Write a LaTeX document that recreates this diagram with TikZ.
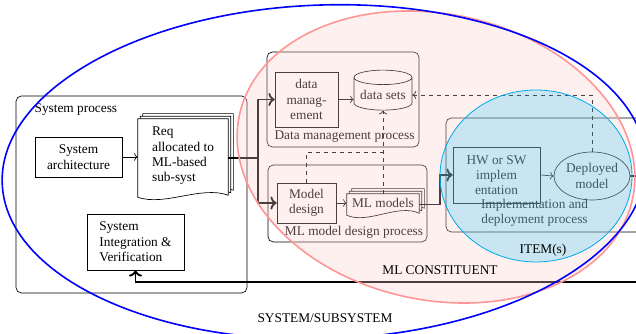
\documentclass[tikz,border=0pt]{standalone}
\usepackage{fontspec}
\setmainfont{Liberation Serif}
\usetikzlibrary{arrows.meta, positioning, shapes.geometric}
\definecolor{mlpink}{RGB}{255, 205, 205}
\definecolor{mlpinkline}{RGB}{255, 150, 150}
\definecolor{itemcyan}{RGB}{0, 190, 245}
\definecolor{itemcyanline}{RGB}{0, 170, 235}
\definecolor{sysblue}{RGB}{0, 0, 255}

% stacked document: name, position, width, height, text
\newcommand{\docstack}[5]{%
  \node[docframe, minimum width=#3, minimum height=#4] (#1) at #2 {};
  \foreach \o in {2,1,0}{
    \pgfmathsetmacro{\d}{1.9*\o}
    \draw[docline]
      ([xshift=\d pt, yshift=\d pt]#1.north west) -- ([xshift=\d pt, yshift=\d pt]#1.north east)
      -- ([xshift=\d pt, yshift=\d pt+1.5pt]#1.south east)
      .. controls ([xshift=\d pt-0.3*#3, yshift=\d pt+9pt]#1.south east)
             and ([xshift=\d pt+0.3*#3, yshift=\d pt-7pt]#1.south west)
      .. ([xshift=\d pt, yshift=\d pt]#1.south west) -- cycle;
  }
  \node[doctext] (#1-txt) at ([yshift=1.5pt]#1.center) {#5};
}

\begin{document}
\begin{tikzpicture}[
  x=0.75pt, y=-0.75pt,
  font=\fontsize{10}{11.5}\selectfont,
  procbox/.style={rectangle, draw, rounded corners=4pt, line width=0.5pt},
  taskbox/.style={rectangle, draw, line width=0.5pt, align=center, inner sep=2pt},
  store/.style={cylinder, shape border rotate=90, aspect=0.3, draw, line width=0.5pt, inner sep=1pt},
  docframe/.style={rectangle, inner sep=0pt, draw=none},
  docline/.style={draw, fill=white, line width=0.5pt},
  doctext/.style={align=left, inner sep=0pt},
  thinarr/.style={-{To}, line width=0.5pt},
  thickarr/.style={-{To}, line width=1.4pt},
  dasharr/.style={-{To}, dashed, line width=0.6pt},
  dashline/.style={dashed, line width=0.6pt}
]
  \useasboundingbox (0,0) rectangle (636,334);
  \clip (0,0) rectangle (636,334);

  % system process
  \node[procbox, minimum width=173.25pt, minimum height=147.75pt] (sysproc) at (131.5,194.5) {};
  \node[below right=6pt and 14pt of sysproc.north west, inner sep=0pt] (sysproclabel) {System process};
  \node[taskbox, minimum width=65.25pt, minimum height=30pt] (sysarch) at (78.5,157) {System\\architecture};
  \docstack{req}{(183,158)}{67.5pt}{58.5pt}{Req\\allocated to\\ML-based\\sub-syst}
  \node[taskbox, align=left, minimum width=72.75pt, minimum height=42pt] (siv) at (135.5,242) {System\\Integration \&\\Verification};

  % data management process
  \node[procbox, minimum width=114pt, minimum height=71.25pt] (dmproc) at (343,99.5) {};
  \node[inner sep=0pt] (dmlabel) at (344.5,137) {Data management process};
  \node[taskbox, minimum width=47.25pt, minimum height=41.25pt] (datamgmt) at (306.5,99.5) {data\\manag-\\ement};
  \node[store, minimum width=43.5pt, minimum height=30pt] (datasets) at (383,95) {data sets};

  % ML model design process
  \node[procbox, minimum width=119.25pt, minimum height=57.75pt] (mlproc) at (347.5,203.5) {};
  \node[inner sep=0pt] (mllabel) at (354,232) {ML model design process};
  \node[taskbox, minimum width=44.25pt, minimum height=30pt] (modeldesign) at (306.5,203) {Model\\design};
  \docstack{mlmodels}{(383,204.5)}{54pt}{15.75pt}{ML models}

  % implementation and deployment process
  \node[procbox, minimum width=190.5pt, minimum height=85.5pt] (implproc) at (573,175) {};
  \node[align=center, inner sep=0pt] (impllabel) at (534.5,212.5) {Implementation and\\deployment process};
  \node[taskbox, minimum width=65.25pt, minimum height=42pt] (hwsw) at (496.5,175) {HW or SW\\implem\\entation};
  \node[ellipse, draw, line width=0.5pt, align=center, minimum width=57pt, minimum height=36pt, inner sep=0pt] (deployed) at (592,176) {Deployed\\model};

  \coordinate (fork) at (258,158);
  \coordinate (hwjoin) at (440,175);
  \coordinate (dashjoin) at (383,152);
  \coordinate (retcorner) at (660,282);

  \draw[thinarr] (sysarch.east) -- (sysarch.east -| req.west);
  \draw[thickarr] (req.east) -- (fork) |- (datamgmt.west);
  \draw[thickarr] (fork) |- (modeldesign.west);
  \draw[thinarr] (datamgmt.east) -- (datamgmt.east -| datasets.west);
  \draw[thinarr] (modeldesign.east) -- (modeldesign.east -| mlmodels.west);
  \draw[thickarr] (mlmodels.east) -- (mlmodels.east -| hwjoin) |- (hwsw.west);
  \draw[thinarr] (hwsw.east) -- (deployed.west);
  \draw[dasharr] (deployed.north) |- (datasets.east);
  \draw[dasharr] (mlmodels.north) -- (datasets.south);
  \draw[dashline] (modeldesign.north) |- (dashjoin);
  \draw[thickarr] (deployed.east) -| (retcorner) -| (siv.south);

  % scopes
  \path[fill=mlpink, fill opacity=0.3, draw=mlpinkline, line width=1.2pt, rotate around={-12:(436,157)}]
    (436,157) ellipse [x radius=201, y radius=143];
  \path[fill=itemcyan, fill opacity=0.21, draw=itemcyanline, line width=0.6pt]
    (536,176) ellipse [x radius=96, y radius=86];
  \draw[sysblue, line width=1.2pt, rotate around={2:(324,172)}]
    (324,172) ellipse [x radius=322, y radius=167];

  \node (itemlabel) at (543,250) {ITEM(s)};
  \node (mlconst) at (440,270) {ML CONSTITUENT};
  \node (syslabel) at (325,318) {SYSTEM/SUBSYSTEM};
\end{tikzpicture}
\end{document}
